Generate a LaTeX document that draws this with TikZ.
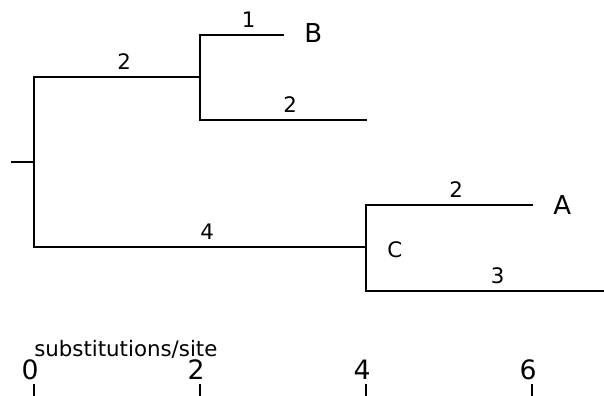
\documentclass[tikz,border=0pt]{standalone}
\usepackage{fontspec}
\setmainfont{DejaVu Sans}
\begin{document}
\begin{tikzpicture}[x=0.75pt,y=-0.75pt,
  br/.style={line width=1.5pt,line cap=rect},
  tk/.style={line width=1.5pt},
  blab/.style={anchor=base west,inner sep=0pt,font=\fontsize{16}{19}\selectfont},
  leaf/.style={anchor=base west,inner sep=0pt,font=\fontsize{19.5}{23}\selectfont},
  ilab/.style={anchor=base west,inner sep=0pt,font=\fontsize{16}{19}\selectfont},
  ticklab/.style={anchor=base,inner sep=0pt,font=\fontsize{20}{24}\selectfont}]
\clip (0,0) rectangle (604,396);
% coordinates
\coordinate (root0) at (12,162);
\coordinate (root) at (34,162);
\coordinate (rt) at (34,77);
\coordinate (rb) at (34,247);
\coordinate (X) at (200,77);
\coordinate (Xt) at (200,35);
\coordinate (Xb) at (200,120);
\coordinate (Bend) at (283,35);
\coordinate (L2) at (366,120);
\coordinate (C) at (366,247);
\coordinate (Ct) at (366,205);
\coordinate (Cb) at (366,291);
\coordinate (Aend) at (532,205);
\coordinate (L3) at (615,291);
% branches
\draw[br] (root0) -- (root);
\draw[br] (rt) -- (rb);
\draw[br] (rt) -- (X);
\draw[br] (Xt) -- (Xb);
\draw[br] (Xt) -- (Bend);
\draw[br] (Xb) -- (L2);
\draw[br] (rb) -- (C);
\draw[br] (Ct) -- (Cb);
\draw[br] (Ct) -- (Aend);
\draw[br] (Cb) -- (L3);
% branch labels
\node[blab] (l1) at (117,69) {2};
\node[blab] (l2) at (241.5,27) {1};
\node[blab] (l3) at (283,112) {2};
\node[blab] (l4) at (200,239) {4};
\node[blab] (l5) at (449,197) {2};
\node[blab] (l6) at (490.5,283) {3};
% leaf / internal labels
\node[leaf] (B) at (304,42) {B};
\node[leaf] (A) at (553,214) {A};
\node[ilab] (Clab) at (387,257) {C};
% scale
\node[anchor=base west,inner sep=0pt,font=\fontsize{16}{19}\selectfont] (unit) at (34,356) {substitutions/site};
\foreach \v/\xx in {0/34,2/200,4/366,6/532}{
  \node[ticklab] (t\v) at (\xx-4,379) {\v};
  \draw[tk] (\xx,384) -- (\xx,396);
}
\end{tikzpicture}
\end{document}
